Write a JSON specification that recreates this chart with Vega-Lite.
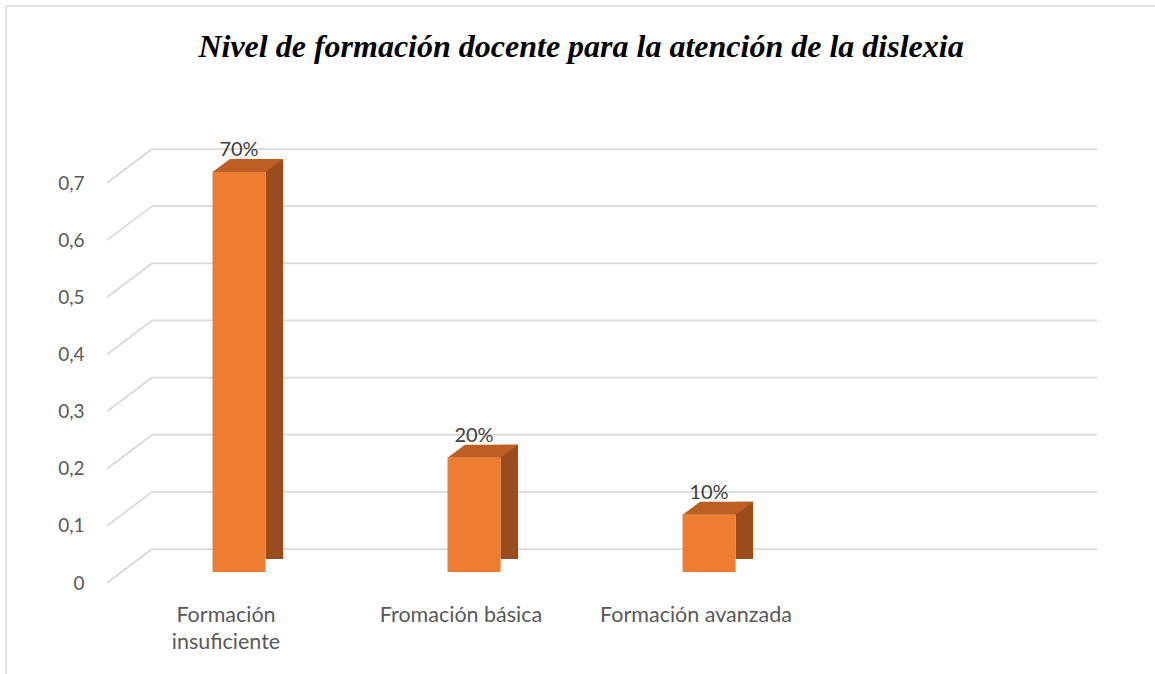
{
  "$schema": "https://vega.github.io/schema/vega-lite/v6.json",
  "autosize": {"type": "none"},
  "padding": {"left": 107, "top": 183, "right": 58, "bottom": 91},
  "width": 990,
  "height": 400,
  "background": "white",
  "config": {"view": {"stroke": null}, "font": "Lato"},
  "title": {
    "text": "Nivel de formación docente para la atención de la dislexia",
    "font": "Liberation Serif",
    "fontSize": 32,
    "fontStyle": "italic",
    "fontWeight": "bold",
    "color": "#000000",
    "anchor": "middle",
    "frame": "group",
    "offset": -59,
    "dx": -21
  },
  "datasets": {
    "barras": [
      {"categoria": "Formación insuficiente", "valor": 0.7, "etiqueta": "70%"},
      {"categoria": "Fromación básica", "valor": 0.2, "etiqueta": "20%"},
      {"categoria": "Formación avanzada", "valor": 0.1, "etiqueta": "10%"}
    ],
    "rejilla": [
      {"valor": 0}, {"valor": 0.1}, {"valor": 0.2}, {"valor": 0.3},
      {"valor": 0.4}, {"valor": 0.5}, {"valor": 0.6}, {"valor": 0.7}
    ]
  },
  "encoding": {
    "y": {
      "field": "valor",
      "type": "quantitative",
      "scale": {"domain": [0, 0.7], "nice": false, "zero": true},
      "axis": {
        "title": null,
        "domain": false,
        "ticks": false,
        "grid": false,
        "values": [0, 0.1, 0.2, 0.3, 0.4, 0.5, 0.6, 0.7],
        "labelFont": "Lato",
        "labelFontSize": 19,
        "labelColor": "#595959",
        "labelPadding": 23,
        "labelExpr": "datum.value == 0 ? '0' : replace(format(datum.value, '.1f'), '.', ',')"
      }
    }
  },
  "layer": [
    {
      "layer": [
        {
          "data": {"name": "rejilla"},
          "mark": {"type": "rule", "color": "#d9d9d9", "strokeWidth": 1.75, "y2Offset": -34},
          "encoding": {
            "x": {"datum": 0, "type": "quantitative", "scale": {"domain": [0, 1], "nice": false, "zero": false}, "axis": null},
            "x2": {"datum": 0.0455},
            "y2": {"field": "valor"}
          }
        },
        {
          "data": {"name": "rejilla"},
          "mark": {"type": "rule", "color": "#d9d9d9", "strokeWidth": 1.75, "yOffset": -34},
          "encoding": {
            "x": {"datum": 0.0455, "type": "quantitative"},
            "x2": {"datum": 1}
          }
        },
        {
          "data": {"name": "rejilla"},
          "transform": [{"filter": "datum.valor == 0"}],
          "mark": {"type": "rule", "color": "#d9d9d9", "strokeWidth": 1.5, "yOffset": -577},
          "encoding": {
            "x": {"datum": -0.102, "type": "quantitative"},
            "y": {"field": "valor", "type": "quantitative"},
            "y2": {"datum": -0.3}
          }
        },
        {
          "data": {"name": "rejilla"},
          "transform": [{"filter": "datum.valor == 0.7"}],
          "mark": {"type": "rule", "color": "#d9d9d9", "strokeWidth": 1.5, "yOffset": -177},
          "encoding": {
            "x": {"datum": -0.102, "type": "quantitative"},
            "x2": {"datum": 1.1},
            "y": {"field": "valor", "type": "quantitative"}
          }
        }
      ]
    },
    {
      "data": {"name": "barras"},
      "encoding": {
        "x": {
          "field": "categoria",
          "type": "nominal",
          "sort": null,
          "scale": {
            "type": "band",
            "domain": ["Formación insuficiente", "Fromación básica", "Formación avanzada"],
            "range": [1.5, 706.5],
            "paddingInner": 0,
            "paddingOuter": 0
          },
          "axis": {
            "orient": "bottom",
            "title": null,
            "domain": false,
            "ticks": false,
            "labelAngle": 0,
            "labelFont": "Lato",
            "labelFontSize": 21.5,
            "labelColor": "#595959",
            "labelPadding": 21,
            "labelLimit": 0,
            "labelLineHeight": 27,
            "labelExpr": "datum.value == 'Formación insuficiente' ? ['Formación', 'insuficiente'] : datum.value"
          }
        }
      },
      "layer": [
        {
          "mark": {"type": "bar", "width": 17.5, "xOffset": 48.25, "yOffset": -24, "y2Offset": -11, "color": "#9A4C1C"}
        },
        {
          "mark": {"type": "bar", "width": 53, "xOffset": 13, "yOffset": -11, "y2Offset": -11, "color": "#ED7D31"}
        },
        {
          "mark": {
            "type": "point",
            "shape": "M -1 0.1844 L 0.5035 0.1844 L 1 -0.1844 L -0.5035 -0.1844 Z",
            "size": 4970,
            "filled": true,
            "opacity": 1,
            "strokeWidth": 0,
            "color": "#BD5E22",
            "xOffset": 21.75,
            "yOffset": -17.5
          }
        },
        {
          "mark": {
            "type": "point",
            "shape": "M -1 0.743 L 1.05 -0.76 L 1.05 0.78 Z",
            "size": 306,
            "filled": true,
            "opacity": 1,
            "strokeWidth": 0,
            "color": "#ffffff",
            "xOffset": 48.25,
            "yOffset": -17.5
          },
          "encoding": {"y": {"datum": 0}}
        },
        {
          "mark": {"type": "text", "font": "Lato", "fontSize": 20, "color": "#404040", "xOffset": 13, "dy": -27, "baseline": "alphabetic"},
          "encoding": {"text": {"field": "etiqueta"}}
        }
      ]
    }
  ],
  "resolve": {"scale": {"x": "independent"}}
}
